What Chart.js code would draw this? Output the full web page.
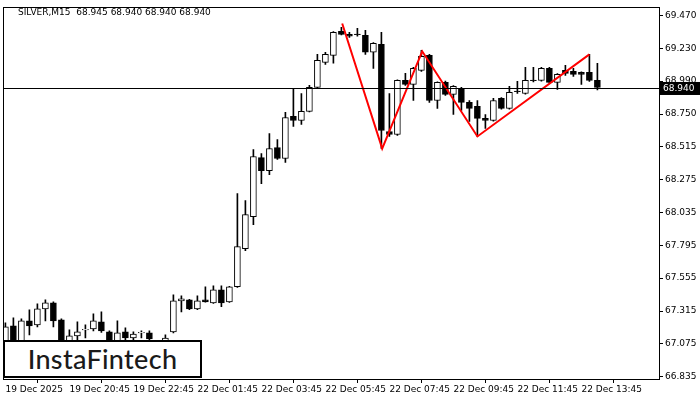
<!DOCTYPE html>
<html><head><meta charset="utf-8">
<script src="https://cdn.jsdelivr.net/npm/chart.js@4"></script>
<style>
html,body{margin:0;padding:0;background:#fff;}
#wrap{position:relative;width:700px;height:400px;}
#logo{position:absolute;left:3px;top:340px;width:195px;height:34px;border:2px solid #000;background:#fff;font:500 27px "Lato",sans-serif;color:#1a1a1a;text-align:center;line-height:34px;letter-spacing:0.3px;}
</style></head>
<body><div id="wrap"><canvas id="c" width="700" height="400"></canvas><div id="logo">InstaFintech</div></div>
<script>
const opens =[67.090,67.207,67.083,67.243,67.214,67.331,67.375,67.251,67.061,67.134,67.178,67.185,67.236,67.163,67.070,67.163,67.119,67.156,67.156,67.097,67.097,67.163,67.389,67.397,67.331,67.397,67.375,67.470,67.382,67.492,67.769,68.003,68.433,68.338,68.506,68.426,68.733,68.703,68.769,68.944,69.127,69.178,69.353,69.331,69.331,69.324,69.200,69.258,68.623,68.601,68.995,68.966,69.068,69.178,68.849,68.981,68.893,68.937,68.835,68.806,68.718,68.703,68.864,68.791,68.915,68.900,68.995,68.995,69.083,68.981,69.068,69.061,69.054,69.054,68.995];
const highs =[67.229,67.265,67.258,67.324,67.367,67.397,67.382,67.258,67.178,67.236,67.214,67.294,67.309,67.170,67.243,67.192,67.163,67.170,67.170,67.100,67.141,67.433,67.426,67.400,67.426,67.492,67.499,67.499,67.495,68.170,68.119,68.492,68.462,68.608,68.565,68.762,68.930,68.900,68.959,69.185,69.200,69.350,69.382,69.346,69.375,69.360,69.270,69.346,68.900,69.000,69.046,69.090,69.214,69.185,68.985,68.990,68.958,68.945,68.849,68.849,68.747,68.864,68.870,68.952,68.988,69.090,69.090,69.090,69.090,69.045,69.105,69.083,69.058,69.185,69.120];
const lows  =[67.054,67.032,67.054,67.141,67.200,67.243,67.200,67.032,67.040,67.090,67.119,67.170,67.160,67.040,67.050,67.105,67.105,67.119,67.100,67.070,67.090,67.155,67.309,67.325,67.325,67.380,67.370,67.346,67.378,67.488,67.754,67.944,68.243,68.309,68.420,68.397,68.660,68.674,68.765,68.940,69.112,69.120,69.327,69.309,69.317,69.185,69.083,68.499,68.587,68.595,68.959,68.849,69.061,68.835,68.791,68.885,68.747,68.776,68.696,68.587,68.645,68.698,68.785,68.785,68.900,68.895,68.985,68.990,68.975,68.930,69.032,69.025,68.966,68.988,68.925];
const closes=[67.200,67.076,67.243,67.207,67.331,67.375,67.243,67.061,67.134,67.163,67.180,67.243,67.170,67.061,67.156,67.119,67.148,67.158,67.112,67.083,67.119,67.389,67.404,67.331,67.389,67.382,67.470,67.375,67.492,67.784,68.017,68.441,68.338,68.499,68.426,68.725,68.703,68.769,68.944,69.141,69.185,69.346,69.331,69.317,69.329,69.200,69.265,68.630,68.601,68.995,68.966,69.083,69.171,68.849,68.981,68.893,68.952,68.835,68.791,68.718,68.703,68.849,68.791,68.908,68.913,68.995,68.993,69.083,68.981,69.039,69.046,69.039,69.039,68.995,68.944];
const patternIdx   =[42.1,47.1,52.1,59,73];
const patternPrice =[69.41,68.499,69.207,68.587,69.185];
const xTickLabels=["19 Dec 2025","19 Dec 20:45","19 Dec 22:45","22 Dec 01:45","22 Dec 03:45","22 Dec 05:45","22 Dec 07:45","22 Dec 09:45","22 Dec 11:45","22 Dec 13:45"];
const yTickValues=[69.470,69.230,68.990,68.750,68.515,68.275,68.035,67.795,67.555,67.315,67.075,66.835];
const lastPrice=68.940;
const title="SILVER,M15  68.945 68.940 68.940 68.940";

const wicks=highs.map((h,i)=>({x:i,y:[lows[i],h]}));
const bodies=opens.map((o,i)=>{let a=Math.min(o,closes[i]),b=Math.max(o,closes[i]);if(b-a<0.004){b=a+0.004;}return {x:i,y:[a,b]};});
const bodyColors=opens.map((o,i)=>closes[i]<o?'#000':'#fff');
const FONT='"DejaVu Sans",sans-serif';

const deco={id:'deco',
 afterDatasetsDraw(ch){const {ctx,chartArea:a,scales:{y}}=ch;const py=Math.round(y.getPixelForValue(lastPrice))+0.5;
  ctx.save();ctx.strokeStyle='#000';ctx.lineWidth=1;ctx.beginPath();ctx.moveTo(a.left,py);ctx.lineTo(a.right,py);ctx.stroke();ctx.restore();},
 afterDraw(ch){const {ctx,chartArea:a,scales:{y}}=ch;ctx.save();ctx.strokeStyle='#000';ctx.lineWidth=1;
  ctx.strokeRect(Math.round(a.left)+0.5,Math.round(a.top)+0.5,Math.round(a.right-a.left),Math.round(a.bottom-a.top));
  const py=y.getPixelForValue(lastPrice);ctx.fillStyle='#000';ctx.fillRect(a.right+1,py-6,40,13);
  ctx.fillStyle='#fff';ctx.font='9px '+FONT;ctx.textBaseline='middle';ctx.fillText(lastPrice.toFixed(3),a.right+4,py+0.5);
  ctx.fillStyle='#000';ctx.textBaseline='alphabetic';ctx.fillText(title,18,15);ctx.restore();}};

new Chart(document.getElementById('c'),{
 type:'bar',
 data:{datasets:[
  {type:'line',data:patternIdx.map((x,i)=>({x,y:patternPrice[i]})),borderColor:'#f00',borderWidth:2,pointRadius:0,order:0},
  {data:bodies,backgroundColor:bodyColors,borderColor:'#000',borderWidth:1,borderSkipped:false,barThickness:6,grouped:false,order:1},
  {data:wicks,backgroundColor:'#000',barThickness:1,grouped:false,order:2}
 ]},
 options:{responsive:false,animation:false,events:[],
  layout:{padding:{left:3,top:3,right:0,bottom:0}},
  plugins:{legend:{display:false},tooltip:{enabled:false}},
  scales:{
   x:{type:'linear',offset:false,min:-0.3,max:81.7,grid:{display:true,drawOnChartArea:false,tickLength:4,color:'#000'},border:{display:false},
    afterBuildTicks(s){s.ticks=xTickLabels.map((t,i)=>({value:i*8}));},
    afterFit(s){s.height=21;},
    ticks:{autoSkip:false,maxRotation:0,align:'start',padding:1,color:'#000',font:{size:9,family:FONT},callback:(v)=>xTickLabels[Math.round(v/8)]}},
   y:{position:'right',min:66.820,max:69.527,grid:{display:true,drawOnChartArea:false,tickLength:4,color:'#000'},border:{display:false},
    afterBuildTicks(s){s.ticks=yTickValues.map(v=>({value:v}));},
    afterFit(s){s.width=41;},
    ticks:{autoSkip:false,padding:2,color:'#000',font:{size:9,family:FONT},callback:v=>v.toFixed(3)}}
  }},
 plugins:[deco]});
</script></body></html>
